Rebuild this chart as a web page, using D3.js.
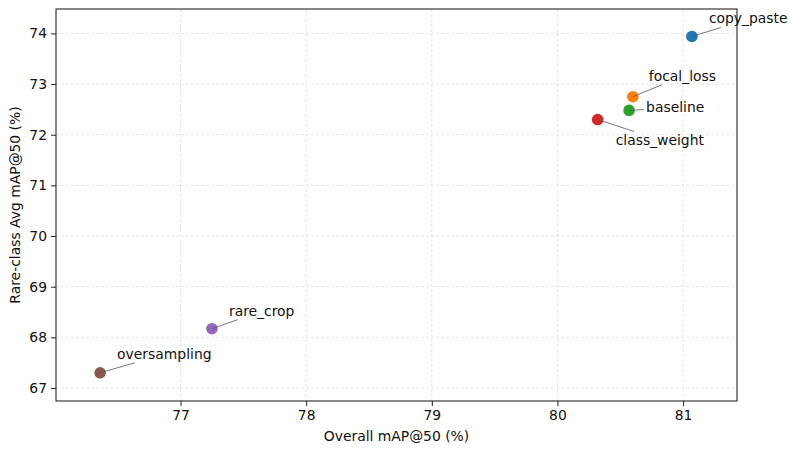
<!DOCTYPE html>
<html lang="en">
<head>
    <meta charset="UTF-8">
    <title>Overall vs rare-class mAP@50</title>
    <style>
        body { margin: 0; background: #fff; }
        svg text { font-family: "DejaVu Sans", sans-serif; }
    </style>
</head>
<body>
    <svg id="chart" width="793" height="452"></svg>

    <script src="https://d3js.org/d3.v7.min.js"></script>
    <script>
        // Data
        const methods = ["copy_paste", "focal_loss", "baseline", "class_weight", "rare_crop", "oversampling"];
        const overallMap = [81.07, 80.60, 80.57, 80.32, 77.25, 76.36];
        const rareMap = [73.94, 72.75, 72.48, 72.30, 68.17, 67.30];
        const xTicks = [77, 78, 79, 80, 81];
        const yTicks = [67, 68, 69, 70, 71, 72, 73, 74];

        // Styling (kept apart from the data)
        const colors = ["#1f77b4", "#ff7f0e", "#2ca02c", "#d62728", "#9467bd", "#8c564b"];
        const labelOffsets = [[17, -13], [16, -16], [17, 2], [18, 25], [17, -13], [17, -14]];

        const margin = { left: 56, right: 56, top: 9, bottom: 51 };
        const width = 793, height = 452;
        const fontSize = "13.9px";

        const svg = d3.select("#chart");

        const x = d3.scaleLinear()
            .domain([76.009, 81.429])
            .range([margin.left, width - margin.right]);
        const y = d3.scaleLinear()
            .domain([66.743, 74.482])
            .range([height - margin.bottom, margin.top]);

        // Grid
        svg.append("g")
            .selectAll("line")
            .data(xTicks)
            .enter()
            .append("line")
            .attr("x1", d => x(d)).attr("x2", d => x(d))
            .attr("y1", y.range()[1]).attr("y2", y.range()[0])
            .attr("stroke", "#e0e0e0")
            .attr("stroke-width", 0.8)
            .attr("stroke-dasharray", "3,2");
        svg.append("g")
            .selectAll("line")
            .data(yTicks)
            .enter()
            .append("line")
            .attr("y1", d => y(d)).attr("y2", d => y(d))
            .attr("x1", x.range()[0]).attr("x2", x.range()[1])
            .attr("stroke", "#e0e0e0")
            .attr("stroke-width", 0.8)
            .attr("stroke-dasharray", "3,2");

        // Axes
        const xAxis = svg.append("g")
            .attr("transform", `translate(0,${height - margin.bottom})`)
            .call(d3.axisBottom(x).tickValues(xTicks).tickSize(5).tickPadding(4).tickFormat(d3.format("d")));
        const yAxis = svg.append("g")
            .attr("transform", `translate(${margin.left},0)`)
            .call(d3.axisLeft(y).tickValues(yTicks).tickSize(5).tickPadding(4).tickFormat(d3.format("d")));
        [xAxis, yAxis].forEach(a => {
            a.select(".domain").remove();
            a.selectAll("line").attr("stroke", "#222");
            a.selectAll("text")
                .attr("font-family", "DejaVu Sans, sans-serif")
                .attr("font-size", fontSize)
                .attr("fill", "#111");
        });

        // Frame
        svg.append("rect")
            .attr("x", x.range()[0])
            .attr("y", y.range()[1])
            .attr("width", x.range()[1] - x.range()[0])
            .attr("height", y.range()[0] - y.range()[1])
            .attr("fill", "none")
            .attr("stroke", "#111")
            .attr("stroke-width", 1);

        // Axis titles
        svg.append("text")
            .attr("x", (x.range()[0] + x.range()[1]) / 2)
            .attr("y", 441)
            .attr("text-anchor", "middle")
            .attr("font-size", fontSize)
            .attr("fill", "#111")
            .text("Overall mAP@50 (%)");
        svg.append("text")
            .attr("transform", `translate(20,${(y.range()[0] + y.range()[1]) / 2}) rotate(-90)`)
            .attr("text-anchor", "middle")
            .attr("font-size", fontSize)
            .attr("fill", "#111")
            .text("Rare-class Avg mAP@50 (%)");

        const points = methods.map((m, i) => ({
            name: m,
            px: x(overallMap[i]),
            py: y(rareMap[i]),
            color: colors[i],
            off: labelOffsets[i]
        }));

        // Labels first so the connector lines can be clipped to their boxes
        const lineLayer = svg.append("g");
        const labels = svg.append("g")
            .selectAll("text")
            .data(points)
            .enter()
            .append("text")
            .attr("x", d => d.px + d.off[0])
            .attr("y", d => d.py + d.off[1])
            .attr("font-size", fontSize)
            .attr("fill", "#111")
            .text(d => d.name);

        labels.each(function(d) {
            const b = this.getBBox();
            const pad = 2;
            const x0 = b.x - pad, x1 = b.x + b.width + pad;
            const y0 = b.y + 2 - pad, y1 = b.y + b.height + pad - 1;
            const cx = (x0 + x1) / 2, cy = (y0 + y1) / 2;
            const dx = cx - d.px, dy = cy - d.py;
            // entry point of the segment point->centre into the box
            let t = 0;
            if (dx !== 0) {
                const tx = ((dx > 0 ? x0 : x1) - d.px) / dx;
                t = Math.max(t, tx);
            }
            if (dy !== 0) {
                const ty = ((dy > 0 ? y0 : y1) - d.py) / dy;
                t = Math.max(t, ty);
            }
            lineLayer.append("line")
                .attr("x1", d.px)
                .attr("y1", d.py)
                .attr("x2", d.px + dx * t)
                .attr("y2", d.py + dy * t)
                .attr("stroke", "#555")
                .attr("stroke-opacity", 0.8)
                .attr("stroke-width", 1);
        });

        // Points
        svg.append("g")
            .selectAll("circle")
            .data(points)
            .enter()
            .append("circle")
            .attr("cx", d => d.px)
            .attr("cy", d => d.py)
            .attr("r", 5.8)
            .attr("fill", d => d.color);

        lineLayer.raise();
    </script>
</body>
</html>
